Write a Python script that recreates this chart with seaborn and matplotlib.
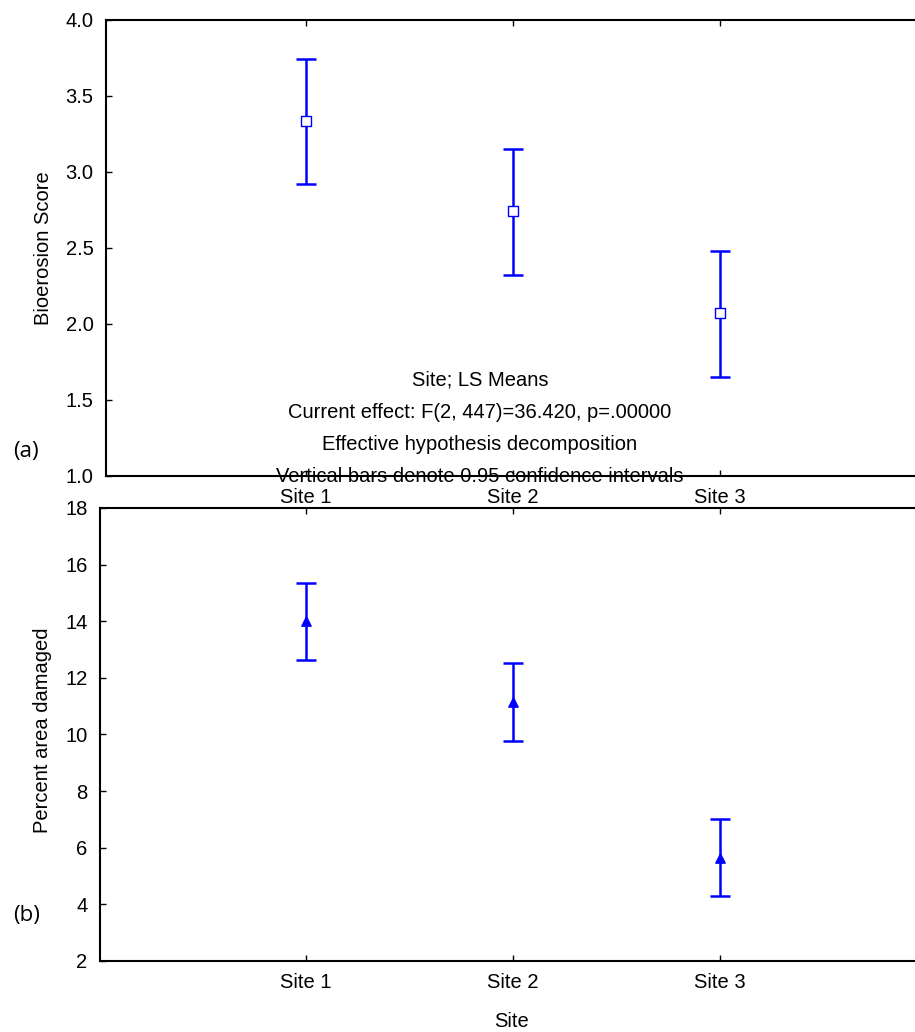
import numpy as np
import pandas as pd
import matplotlib
matplotlib.use("Agg")
import matplotlib.pyplot as plt
import matplotlib.ticker as mticker
import seaborn as sns

sites = ["Site 1", "Site 2", "Site 3"]

# (a) bioerosion score, LS means and 95% CI
bio_mean = [3.33, 2.74, 2.07]
bio_low = [2.92, 2.32, 1.65]
bio_high = [3.74, 3.15, 2.48]

# (b) percent area damaged
pct_mean = [14.0, 11.15, 5.63]
pct_low = [12.63, 9.77, 4.29]
pct_high = [15.35, 12.52, 7.0]

bio_ticks = [1.0, 1.5, 2.0, 2.5, 3.0, 3.5, 4.0]
pct_ticks = [2, 4, 6, 8, 10, 12, 14, 16, 18]

sns.set_style("ticks")
plt.rcParams["font.family"] = ["Liberation Sans", "DejaVu Sans"]
plt.rcParams["xtick.direction"] = "in"
plt.rcParams["ytick.direction"] = "in"
plt.rcParams["text.color"] = "black"
plt.rcParams["axes.labelcolor"] = "black"

blue = "#0000ff"
fs = 14.5
fig = plt.figure(figsize=(9.15, 10.32), dpi=100)
ax1 = fig.add_axes([0.1158, 0.5388, 0.8842, 0.4423])
ax2 = fig.add_axes([0.1093, 0.0688, 0.8907, 0.4390])

df1 = pd.DataFrame({"x": range(3), "m": bio_mean, "lo": bio_low, "hi": bio_high})
df2 = pd.DataFrame({"x": range(3), "m": pct_mean, "lo": pct_low, "hi": pct_high})


def draw(ax, df, marker, face):
    ax.errorbar(df["x"], df["m"], yerr=[df["m"] - df["lo"], df["hi"] - df["m"]],
                fmt="none", ecolor=blue, elinewidth=1.8, capsize=7.5, capthick=1.8, zorder=2)
    sns.scatterplot(data=df, x="x", y="m", ax=ax, marker=marker, s=45,
                    color=face, edgecolor=blue, linewidth=1.0, zorder=3, legend=False)


draw(ax1, df1, "s", "white")
draw(ax2, df2, "^", blue)

for ax, ticks, lo, hi, left in [(ax1, bio_ticks, 1.0, 4.0, -0.966), (ax2, pct_ticks, 2, 18, -0.995)]:
    ax.set_xlim(left, 2.942)
    ax.set_ylim(lo, hi)
    ax.set_yticks(ticks)
    ax.set_xticks(range(3))
    ax.set_xticklabels(sites)
    ax.tick_params(axis="both", labelsize=fs, length=4, width=1, colors="black",
                   top=True, bottom=True)
    ax.tick_params(axis="x", pad=9)
    ax.tick_params(axis="y", pad=9)
    ax.spines["right"].set_visible(False)
    for s in ["left", "top", "bottom"]:
        ax.spines[s].set_linewidth(1.5)
        ax.spines[s].set_color("black")
    ax.set_xlabel("")
    ax.grid(False)

ax1.yaxis.set_major_formatter(mticker.FormatStrFormatter("%.1f"))
ax1.set_ylabel("Bioerosion Score", fontsize=fs)
ax1.yaxis.set_label_coords(-0.066, 0.5)
ax2.set_ylabel("Percent area damaged", fontsize=fs)
ax2.yaxis.set_label_coords(-0.059, 0.51)
ax2.set_xlabel("Site", fontsize=fs)
ax2.xaxis.set_label_coords(0.5055, -0.112)

notes = ["Site; LS Means",
         "Current effect: F(2, 447)=36.420, p=.00000",
         "Effective hypothesis decomposition",
         "Vertical bars denote 0.95 confidence intervals"]
note_y = [380, 412, 444, 477]
for t, yy in zip(notes, note_y):
    fig.text(480 / 915, 1 - yy / 1032, t, ha="center", va="center", fontsize=fs)

fig.text(13 / 915, 1 - 452 / 1032, "(a)", ha="left", va="center", fontsize=16,
         family=["Open Sans", "DejaVu Sans"])
fig.text(13 / 915, 1 - 915 / 1032, "(b)", ha="left", va="center", fontsize=16,
         family=["Open Sans", "DejaVu Sans"])

fig.savefig("out.png", dpi=100)
